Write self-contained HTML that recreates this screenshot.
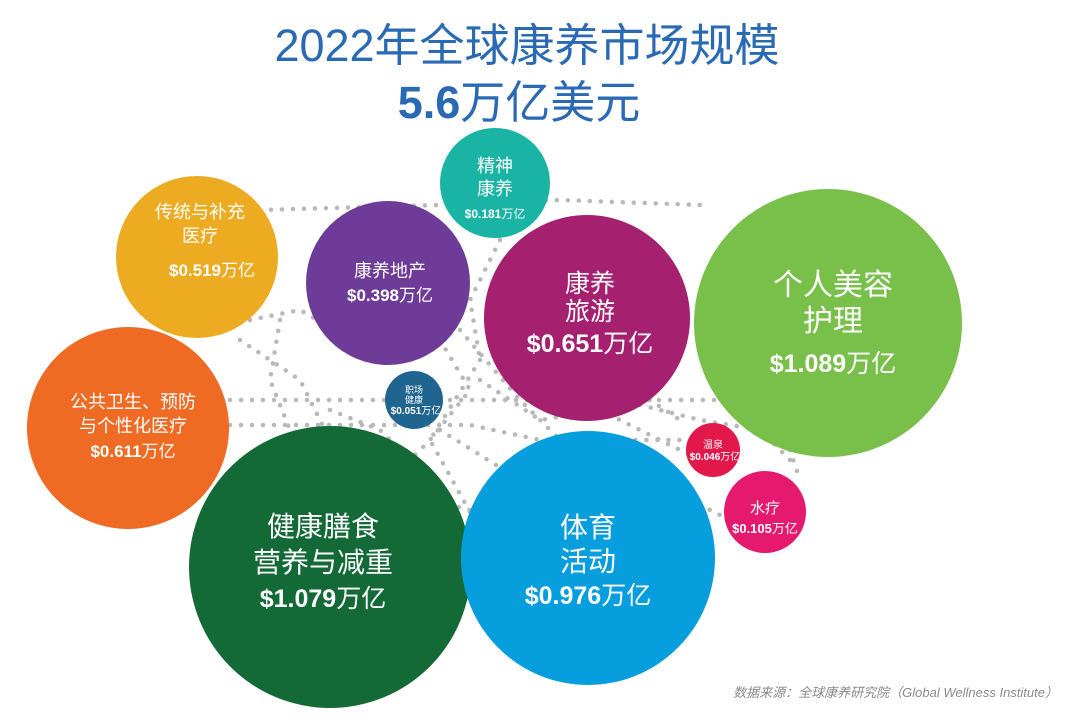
<!DOCTYPE html>
<html><head><meta charset="utf-8"><style>
body{margin:0;background:#fff;}
svg{display:block;}
text{font-family:"Liberation Sans","Noto Sans CJK SC",sans-serif;fill:#fff;text-anchor:middle;}
</style></head><body>
<svg width="1080" height="727" viewBox="0 0 1080 727">
<rect width="1080" height="727" fill="#fff"/>
<g stroke="#b8b8b8" stroke-width="4.5" stroke-linecap="round" stroke-dasharray="0 11" fill="none">
<path d="M230 400 L700 400 L800 400"/>
<path d="M230 425 L470 425 L540 440 L690 440"/>
<path d="M260 210 L440 205 L560 200 L700 205"/>
<path d="M250 320 L300 310 L360 345 L390 350"/>
<path d="M240 340 L300 380 L330 440"/>
<path d="M280 320 L270 380 L290 430"/>
<path d="M440 340 L470 390 L430 440 L400 470"/>
<path d="M460 330 L520 400 L560 440"/>
<path d="M480 360 L430 440 L480 530"/>
<path d="M500 240 L470 300 L480 360"/>
<path d="M440 430 L520 480"/>
<path d="M480 380 L540 420 L600 410 L660 440 L700 460"/>
<path d="M640 405 L700 420 L760 430 L790 460"/>
<path d="M790 450 L800 480"/>
<path d="M690 500 L730 520"/>
<path d="M380 470 L430 500 L470 510"/>
<path d="M330 410 L380 430 L420 470"/>
<path d="M560 360 L620 380 L680 420"/>
</g>
<circle cx="197" cy="257" r="81" fill="#EDAB21"/>
<circle cx="388" cy="283" r="82" fill="#6E3C98"/>
<circle cx="495" cy="183" r="55" fill="#1AB4A5"/>
<circle cx="587" cy="318" r="103" fill="#A5216F"/>
<circle cx="828" cy="323" r="134" fill="#79C04B"/>
<circle cx="128" cy="428" r="101" fill="#EF6A23"/>
<circle cx="414" cy="400" r="29" fill="#206590"/>
<circle cx="713" cy="450" r="27" fill="#E3184A"/>
<circle cx="765" cy="512" r="41" fill="#E51A6F"/>
<circle cx="330" cy="567" r="141" fill="#136A36"/>
<circle cx="588" cy="558" r="127" fill="#069EDD"/>

<text x="527" y="61" font-size="45" style="fill:#2A6AB5">2022年全球康养市场规模</text>
<text x="519" y="118" font-size="45" style="fill:#2A6AB5"><tspan font-weight="bold">5.6</tspan>万亿美元</text>

<text x="200" y="218" font-size="18">传统与补充</text>
<text x="200" y="242" font-size="18">医疗</text>
<text x="212" y="276" font-size="17" font-weight="bold">$0.519<tspan font-weight="normal">万亿</tspan></text>

<text x="390" y="277" font-size="18">康养地产</text>
<text x="390" y="301" font-size="17" font-weight="bold">$0.398<tspan font-weight="normal">万亿</tspan></text>

<text x="495" y="172" font-size="18">精神</text>
<text x="495" y="195" font-size="18">康养</text>
<text x="495" y="218" font-size="12" font-weight="bold">$0.181<tspan font-weight="normal">万亿</tspan></text>

<text x="590" y="292" font-size="25">康养</text>
<text x="590" y="320" font-size="25">旅游</text>
<text x="590" y="352" font-size="25" font-weight="bold">$0.651<tspan font-weight="normal">万亿</tspan></text>

<text x="833" y="295" font-size="30">个人美容</text>
<text x="833" y="331" font-size="30">护理</text>
<text x="833" y="372" font-size="25" font-weight="bold">$1.089<tspan font-weight="normal">万亿</tspan></text>

<text x="133" y="408" font-size="18">公共卫生、预防</text>
<text x="133" y="432" font-size="18">与个性化医疗</text>
<text x="133" y="457" font-size="17" font-weight="bold">$0.611<tspan font-weight="normal">万亿</tspan></text>

<text x="414" y="393" font-size="9">职场</text>
<text x="414" y="403" font-size="9">健康</text>
<text x="416" y="414" font-size="10" font-weight="bold">$0.051<tspan font-weight="normal">万亿</tspan></text>

<text x="713" y="448" font-size="10">温泉</text>
<text x="715" y="460" font-size="10" font-weight="bold">$0.046<tspan font-weight="normal">万亿</tspan></text>

<text x="765" y="513" font-size="15">水疗</text>
<text x="765" y="533" font-size="13" font-weight="bold">$0.105<tspan font-weight="normal">万亿</tspan></text>

<text x="323" y="536" font-size="28">健康膳食</text>
<text x="323" y="572" font-size="28">营养与减重</text>
<text x="323" y="607" font-size="25" font-weight="bold">$1.079<tspan font-weight="normal">万亿</tspan></text>

<text x="588" y="537" font-size="28">体育</text>
<text x="588" y="571" font-size="28">活动</text>
<text x="588" y="604" font-size="25" font-weight="bold">$0.976<tspan font-weight="normal">万亿</tspan></text>

<text x="1058" y="697" font-size="13" style="fill:#8a8a8a;text-anchor:end;font-style:italic">数据来源：全球康养研究院（Global Wellness Institute）</text>
</svg>
</body></html>
